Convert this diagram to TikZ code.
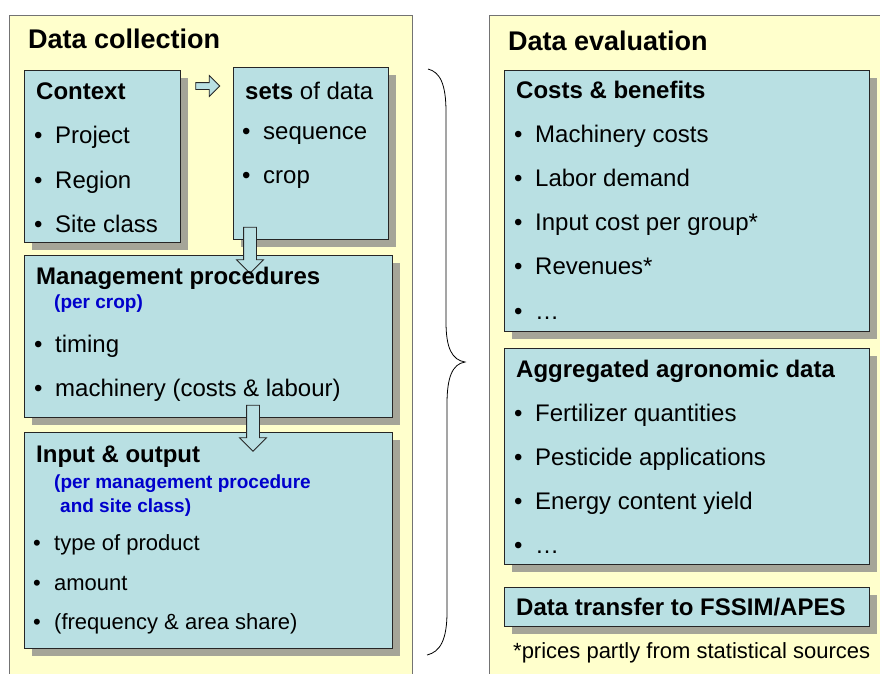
\documentclass[tikz,border=0pt]{standalone}
\usepackage{fontspec}
\setmainfont{Liberation Sans}
\usetikzlibrary{positioning}
\usetikzlibrary{fit,shadows,shapes.arrows}
\definecolor{panelyellow}{RGB}{255,255,204}
\definecolor{boxblue}{RGB}{185,224,227}
\definecolor{shadowgray}{RGB}{165,165,152}
\definecolor{subblue}{RGB}{0,0,204}
\newcommand{\bul}{\makebox[21pt][l]{\textbullet}}

\begin{document}
\begin{tikzpicture}[x = 1pt, y = -1pt,
    panel/.style = {draw = black!55, fill = panelyellow, line width = 0.8pt, inner sep = 0pt},
    box/.style = {draw = black!85, fill = boxblue, line width = 0.8pt, inner sep = 0pt, drop shadow = {shadow xshift = 8pt, shadow yshift = -8pt, fill = shadowgray, opacity = 1}},
    title/.style = {anchor = base west, inner sep = 0pt, font = \fontsize{27}{32}\selectfont\bfseries},
    head/.style = {anchor = base west, inner sep = 0pt, font = \fontsize{24}{29}\selectfont\bfseries},
    item/.style = {anchor = base west, inner sep = 0pt, font = \fontsize{24}{29}\selectfont},
    smallitem/.style = {anchor = base west, inner sep = 0pt, font = \fontsize{22}{26}\selectfont},
    sub/.style = {anchor = base west, inner sep = 0pt, text = subblue, font = \fontsize{19}{23}\selectfont\bfseries},
    blockarrow/.style = {single arrow, draw = black!85, fill = boxblue, line width = 0.8pt, inner xsep = 0pt, single arrow head indent = 0pt},
    ]
    \useasboundingbox (0,0) rectangle (880,673);

    \node[panel, fit = {(9,15) (412,690)}] (collect) {};
    \node[panel, fit = {(489,15) (895,690)}] (evaluate) {};

    \node[box, fit = {(24,70) (180,242)}] (context) {};
    \node[box, fit = {(233,67) (388,239)}] (sets) {};
    \node[box, fit = {(24,255) (392,417)}] (manage) {};
    \node[box, fit = {(24,432) (392,648)}] (inout) {};
    \node[box, fit = {(504,70) (869,331)}] (costs) {};
    \node[box, fit = {(504,348) (869,564)}] (agro) {};
    \node[box, fit = {(504,587) (869,626)}] (transfer) {};

    \node[blockarrow, inner ysep = 3pt, minimum height = 24pt, minimum width = 17pt] (toSets) at (206,86) {};
    \node[blockarrow, inner ysep = 6pt, minimum height = 46pt, minimum width = 24pt, rotate = -90] (toManage) at (250,247) {};
    \node[blockarrow, inner ysep = 6pt, minimum height = 46pt, minimum width = 24pt, rotate = -90] (toInout) at (253,425) {};

    \node[title] (collectT) at (28,48) {Data collection};
    \node[title] (evaluateT) at (508,50) {Data evaluation};

    \node[head] (contextT) at (36,99) {Context};
    \foreach \txt [count = \i] in {Project, Region, Site class}
        \node[item] (context\i) at (34,{99+44.5*\i}) {\bul\txt};

    \node[item] (setsT) at (245,99) {\textbf{sets} of data};
    \node[item] (sets1) at (242,139) {\bul sequence};
    \node[item] (sets2) at (242,183) {\bul crop};

    \node[head] (manageT) at (36,284) {Management procedures};
    \node[sub] (manageS) at (54,308) {(per crop)};
    \node[item] (manage1) at (34,352) {\bul timing};
    \node[item] (manage2) at (34,396) {\bul machinery (costs \& labour)};

    \node[head] (inoutT) at (36,462) {Input \& output};
    \node[sub] (inoutS) at (54,488) {(per management procedure};
    \node[sub] (inoutS2) at (60,512) {and site class)};
    \node[smallitem] (inout1) at (33,550) {\bul type of product};
    \node[smallitem] (inout2) at (33,590) {\bul amount};
    \node[smallitem] (inout3) at (33,629) {\bul (frequency \& area share)};

    \node[head] (costsT) at (516,98) {Costs \& benefits};
    \foreach \txt [count = \i] in {Machinery costs, Labor demand, Input cost per group*, Revenues*, …}
        \node[item] (costs\i) at (514,{98+44.2*\i}) {\bul\txt};

    \node[head] (agroT) at (516,377) {Aggregated agronomic data};
    \foreach \txt [count = \i] in {Fertilizer quantities, Pesticide applications, Energy content yield, …}
        \node[item] (agro\i) at (514,{377+44*\i}) {\bul\txt};

    \node[head] (transferT) at (516,615) {Data transfer to FSSIM/APES};
    \node[smallitem] (note) at (513,658) {*prices partly from statistical sources};

    \draw[line width = 0.8pt] (428,69) .. controls (440,72) and (446,84) .. (446,112) -- (446,322)
        .. controls (446,348) and (452,360) .. (465,362)
        .. controls (452,364) and (447,378) .. (447,404) -- (447,612)
        .. controls (447,640) and (440,652) .. (427,655);
\end{tikzpicture}
\end{document}
